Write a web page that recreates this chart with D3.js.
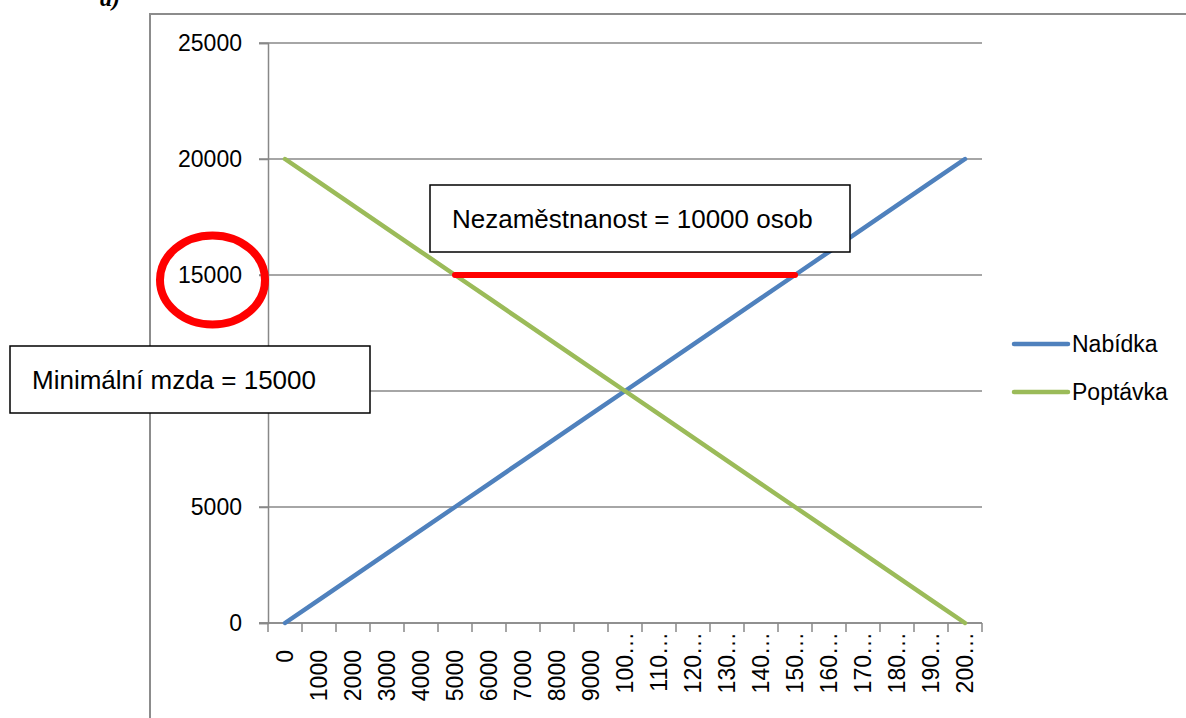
<!DOCTYPE html>
<html>
<head>
<meta charset="utf-8">
<script src="https://cdn.jsdelivr.net/npm/d3@7"></script>
<style>
  body { margin: 0; background: #fff; }
  svg { display: block; }
</style>
</head>
<body>
<div class="graph"></div>
<script>
// kategorie na ose x (počet osob)
const categories = ["0","1000","2000","3000","4000","5000","6000","7000","8000","9000","10000",
                    "11000","12000","13000","14000","15000","16000","17000","18000","19000","20000"];
// popisky tak, jak jsou zkrácené v grafu
const xTickLabels = ["0","1000","2000","3000","4000","5000","6000","7000","8000","9000","100…",
                     "110…","120…","130…","140…","150…","160…","170…","180…","190…","200…"];
const nabidka = [0,1000,2000,3000,4000,5000,6000,7000,8000,9000,10000,
                 11000,12000,13000,14000,15000,16000,17000,18000,19000,20000];
const poptavka = [20000,19000,18000,17000,16000,15000,14000,13000,12000,11000,10000,
                  9000,8000,7000,6000,5000,4000,3000,2000,1000,0];
const yTicks = [0, 5000, 10000, 15000, 20000, 25000];
const minMzda = 15000;
const nezamestnanost = ["5000", "15000"];  // od poptávky po nabídku při min. mzdě

const width = 1186, height = 718;
const margin = {top: 43, right: 204, bottom: 95, left: 268};
const font = "'Liberation Sans', Arial, sans-serif";
const gridColor = "#888888";

const svg = d3.select(".graph").append("svg")
    .attr("width", width)
    .attr("height", height)
    .style("font-family", font);

// rámeček grafu
svg.append("path")
    .attr("d", `M150,${height}V14H${width}`)
    .attr("fill", "none")
    .attr("stroke", "#8c8c8c")
    .attr("stroke-width", 2);

svg.append("text")
    .attr("x", 100).attr("y", 6)
    .style("font", "bold italic 24px 'Liberation Serif', serif")
    .text("a)");

const x = d3.scaleBand()
    .domain(categories)
    .range([margin.left, width - margin.right]);

const y = d3.scaleLinear()
    .domain([0, 25000])
    .range([height - margin.bottom, margin.top]);

// mřížka
svg.append("g")
    .selectAll("line")
    .data(yTicks)
    .join("line")
    .attr("x1", margin.left - 9)
    .attr("x2", width - margin.right)
    .attr("y1", d => y(d))
    .attr("y2", d => y(d))
    .attr("stroke", gridColor)
    .attr("stroke-width", 1.5);

// osa y
const yAxis = g => g
    .attr("transform", `translate(${margin.left},0)`)
    .call(d3.axisLeft(y).tickValues(yTicks).tickSize(9).tickPadding(17).tickFormat(d3.format("d")))
    .call(g => g.selectAll("line, .domain").attr("stroke", gridColor).attr("stroke-width", 1.5))
    .call(g => g.selectAll("text").style("font-size", "23px").attr("fill", "#000"));

svg.append("g").call(yAxis);

// osa x
const xAxis = g => g
    .attr("transform", `translate(0,${y(0)})`)
    .call(d3.axisBottom(x).tickSize(0).tickFormat((d, i) => xTickLabels[i]))
    .call(g => g.select(".domain").remove())
    .call(g => g.selectAll("text")
        .style("font-size", "23px")
        .attr("fill", "#000")
        .attr("transform", "rotate(-90)")
        .attr("text-anchor", "end")
        .attr("y", 0)
        .attr("dy", "0.35em")
        .attr("x", (d, i) => xTickLabels[i].includes("…") ? -9 : -27));

svg.append("g").call(xAxis);

const boundaries = categories.map(c => x(c)).concat([x.range()[1]]);
svg.append("g")
    .selectAll("line")
    .data(boundaries)
    .join("line")
    .attr("x1", d => d).attr("x2", d => d)
    .attr("y1", y(0)).attr("y2", y(0) + 9)
    .attr("stroke", gridColor)
    .attr("stroke-width", 1.5);

svg.append("line")
    .attr("x1", margin.left - 9).attr("x2", x.range()[1])
    .attr("y1", y(0)).attr("y2", y(0))
    .attr("stroke", gridColor)
    .attr("stroke-width", 1.5);

// křivky
const line = d3.line()
    .x(d => x(d.cat) + x.bandwidth() / 2)
    .y(d => y(d.value));

const series = [
  {name: "Nabídka", color: "#4f81bd", values: nabidka},
  {name: "Poptávka", color: "#9bbb59", values: poptavka}
];

svg.append("g")
    .selectAll("path")
    .data(series)
    .join("path")
    .attr("d", s => line(s.values.map((v, i) => ({cat: categories[i], value: v}))))
    .attr("fill", "none")
    .attr("stroke", s => s.color)
    .attr("stroke-width", 4.5)
    .attr("stroke-linecap", "round");

// legenda
const legend = svg.append("g")
    .selectAll("g")
    .data(series)
    .join("g")
    .attr("transform", (d, i) => `translate(1014,${344 + i * 48})`);

legend.append("line")
    .attr("x1", 0).attr("x2", 54)
    .attr("stroke", d => d.color)
    .attr("stroke-width", 4.5)
    .attr("stroke-linecap", "round");

legend.append("text")
    .attr("x", 58)
    .attr("dy", "0.35em")
    .style("font-size", "23px")
    .text(d => d.name);

// nezaměstnanost – červená úsečka
svg.append("line")
    .attr("x1", x(nezamestnanost[0]) + x.bandwidth() / 2)
    .attr("x2", x(nezamestnanost[1]) + x.bandwidth() / 2)
    .attr("y1", y(minMzda)).attr("y2", y(minMzda))
    .attr("stroke", "#ff0000")
    .attr("stroke-width", 6)
    .attr("stroke-linecap", "round");

// kroužek kolem 15000
svg.append("ellipse")
    .attr("cx", 212.5).attr("cy", y(minMzda) + 5)
    .attr("rx", 52.5).attr("ry", 44.5)
    .attr("fill", "none")
    .attr("stroke", "#ff0000")
    .attr("stroke-width", 8);

// popisky v rámečcích
const boxes = [
  {text: "Nezaměstnanost = 10000 osob", x: 430, y: 185, w: 420, h: 67},
  {text: "Minimální mzda = 15000", x: 10, y: 346, w: 360, h: 67}
];

const box = svg.append("g")
    .selectAll("g")
    .data(boxes)
    .join("g");

box.append("rect")
    .attr("x", d => d.x).attr("y", d => d.y)
    .attr("width", d => d.w).attr("height", d => d.h)
    .attr("fill", "#fff")
    .attr("stroke", "#000")
    .attr("stroke-width", 1.5);

box.append("text")
    .attr("x", d => d.x + 22)
    .attr("y", d => d.y + d.h / 2)
    .attr("dy", "0.35em")
    .style("font-size", "26px")
    .text(d => d.text);
</script>
</body>
</html>
